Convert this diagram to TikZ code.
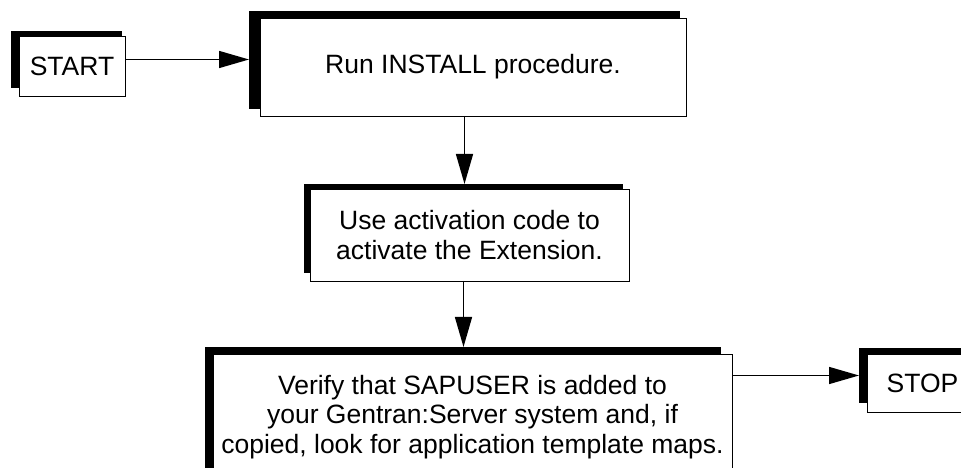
\documentclass[tikz,border=0pt]{standalone}
\usepackage{fontspec}
\setmainfont{Liberation Sans}
\usetikzlibrary{arrows.meta}
\tikzset{
  x=1pt, y=1pt,
  shbox/.style={fill=black, draw=none, inner sep=0pt, outer sep=0pt},
  stepbox/.style={fill=white, draw=black, line width=0.8pt, inner sep=0pt, outer sep=0pt,
    align=center, font=\fontsize{26.5}{29.5}\selectfont},
  arr/.style={line width=1.5pt, -{Triangle[length=30pt,width=17pt]}}
}
\begin{document}
\begin{tikzpicture}
\useasboundingbox (0,0) rectangle (961,468);
\clip (0,0) rectangle (961,468);
% shadows
\node[shbox, minimum width=111pt, minimum height=57pt] (startsh) at (66.5,408.5) {};
\node[shbox, minimum width=431pt, minimum height=98pt] (runsh) at (464.5,408) {};
\node[shbox, minimum width=319pt, minimum height=89pt] (usesh) at (463.5,239.5) {};
\node[shbox, minimum width=516pt, minimum height=126pt] (versh) at (463,58) {};
\node[shbox, minimum width=111pt, minimum height=55pt] (stopsh) at (914.5,92.5) {};
% boxes
\node[stepbox, minimum width=106pt, minimum height=60pt] (start) at (72,402) {START};
\node[stepbox, minimum width=426pt, minimum height=98pt] (run) at (473,401) {Run INSTALL procedure.};
\node[stepbox, minimum width=319pt, minimum height=92pt] (use) at (469.5,233) {Use activation code to\\activate the Extension.};
\node[stepbox, minimum width=519pt, minimum height=126pt] (ver) at (472.5,51) {Verify that SAPUSER is added to\\your Gentran:Server system and, if\\copied, look for application template maps.};
\node[stepbox, minimum width=111pt, minimum height=58pt] (stop) at (922.5,85) {STOP};
% connectors
\draw[arr] (start.east |- startsh.center) -- (runsh.west |- startsh.center);
\draw[arr] (run.south -| runsh.center) -- (usesh.north -| runsh.center);
\draw[arr] (use.south -| usesh.center) -- (versh.north -| usesh.center);
\draw[arr] (ver.east |- stopsh.west) -- (stopsh.west);
\end{tikzpicture}
\end{document}
